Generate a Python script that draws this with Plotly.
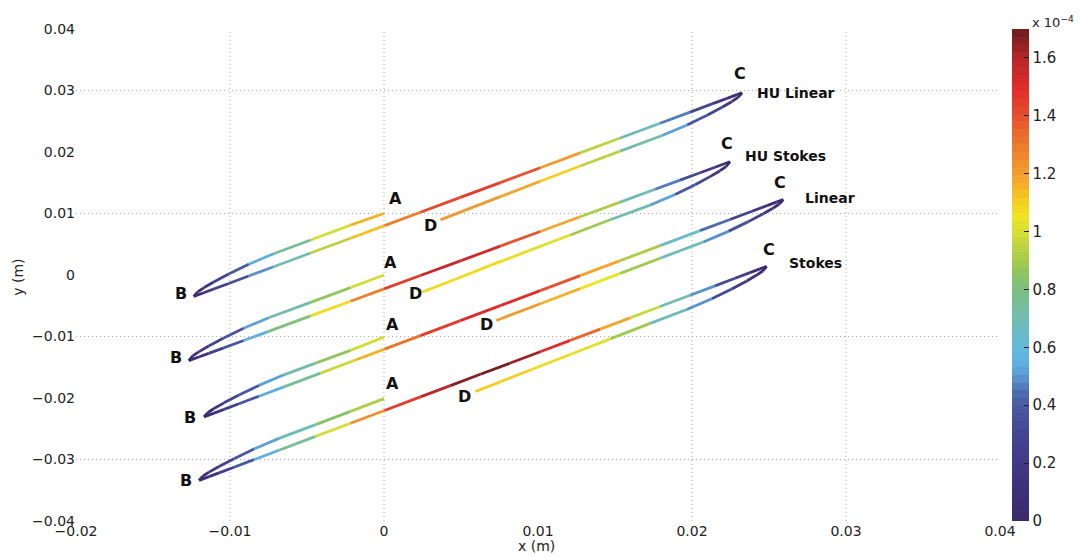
import plotly.graph_objects as go

# ---------------- data (x, y in m; v = speed in units of 1e-4, as on the colour bar) ----------------
# each path runs A -> B -> C -> D
hu_linear_x = [0.0, -0.002173, -0.004767, -0.007166, -0.008787, -0.010084, -0.011057, -0.011706, -0.012095, -0.012354,
               -0.011706, -0.011057, -0.010084, -0.008787, -0.007166, -0.004767, -0.002173, 0.000032, 0.002367, 0.004961,
               0.007555, 0.010149, 0.012743, 0.015337, 0.017931, 0.019877, 0.021304, 0.022276, 0.022925, 0.023249,
               0.022990, 0.022601, 0.021952, 0.020979, 0.019682, 0.018061, 0.015337, 0.012743, 0.010149, 0.007555,
               0.005285, 0.003664]
hu_linear_y = [0.010000, 0.008101, 0.005688, 0.003455, 0.001736, 0.000147, -0.001139, -0.002082, -0.002741, -0.003491,
               -0.002887, -0.002284, -0.001380, -0.000173, 0.001334, 0.003568, 0.005980, 0.008031, 0.010204, 0.012617,
               0.015029, 0.017442, 0.019855, 0.022268, 0.024682, 0.026491, 0.027819, 0.028723, 0.029326, 0.029628,
               0.028878, 0.028219, 0.027276, 0.025989, 0.024401, 0.022680, 0.020147, 0.017734, 0.015240, 0.012746,
               0.010553, 0.008962]
hu_linear_v = [1.22, 1.10, 0.88, 0.62, 0.45, 0.32, 0.22, 0.13, 0.08, 0.03,
               0.12, 0.20, 0.30, 0.42, 0.58, 0.82, 1.05, 1.22, 1.38, 1.47,
               1.45, 1.32, 1.08, 0.80, 0.54, 0.38, 0.25, 0.15, 0.07, 0.02,
               0.07, 0.13, 0.22, 0.33, 0.45, 0.60, 0.85, 1.05, 1.15, 1.20,
               1.22, 1.22]

hu_stokes_x = [0.0, -0.002173, -0.004767, -0.007490, -0.009112, -0.010409, -0.011381, -0.012030, -0.012419, -0.012678,
               -0.012030, -0.011381, -0.010409, -0.009112, -0.007490, -0.004767, -0.002173, 0.0, 0.002367, 0.004961,
               0.007555, 0.010149, 0.012743, 0.015337, 0.017607, 0.019228, 0.020525, 0.021498, 0.022147, 0.022471,
               0.022211, 0.021822, 0.021174, 0.020201, 0.018904, 0.017283, 0.014689, 0.012095, 0.009501, 0.006907,
               0.004637, 0.002477]
hu_stokes_y = [0.0, -0.002059, -0.004447, -0.006954, -0.008667, -0.010256, -0.011548, -0.012498, -0.013165, -0.013932,
               -0.013334, -0.012737, -0.011842, -0.010649, -0.009157, -0.006649, -0.004261, -0.002263, -0.000083, 0.002303,
               0.004692, 0.007080, 0.009467, 0.011855, 0.013945, 0.015436, 0.016630, 0.017525, 0.018122, 0.018421,
               0.017633, 0.016956, 0.015994, 0.014687, 0.013082, 0.011361, 0.008974, 0.006504, 0.004036, 0.001566,
               -0.000687, -0.002788]
hu_stokes_v = [1.05, 0.95, 0.80, 0.60, 0.45, 0.32, 0.22, 0.13, 0.07, 0.02,
               0.10, 0.18, 0.30, 0.45, 0.65, 0.95, 1.20, 1.38, 1.52, 1.58,
               1.50, 1.30, 1.05, 0.78, 0.55, 0.40, 0.28, 0.18, 0.09, 0.03,
               0.08, 0.13, 0.22, 0.33, 0.45, 0.60, 0.82, 0.98, 1.05, 1.08,
               1.08, 1.08]

linear_x = [0.0, -0.002173, -0.004442, -0.006498, -0.008119, -0.009416, -0.010389, -0.011038, -0.011427, -0.011686,
            -0.011038, -0.010389, -0.009416, -0.008119, -0.006498, -0.004118, -0.001848, 0.000032, 0.002367, 0.004961,
            0.007555, 0.010149, 0.012743, 0.015337, 0.017931, 0.020525, 0.022471, 0.023898, 0.024870, 0.025519,
            0.025927,
            0.025668, 0.025279, 0.024630, 0.023658, 0.022361, 0.020739, 0.017931, 0.015337, 0.012743, 0.010149,
            0.007296]
linear_y = [-0.0101, -0.012251, -0.014334, -0.016233, -0.017953, -0.019524, -0.020791, -0.021713, -0.022354, -0.023067,
            -0.022457, -0.021848, -0.020933, -0.019715, -0.018191, -0.015954, -0.013821, -0.012054, -0.009860, -0.007423,
            -0.004984, -0.002546, -0.000109, 0.002330, 0.004767, 0.007206, 0.009033, 0.010374, 0.011289, 0.011897,
            0.012281,
            0.011547, 0.010896, 0.009961, 0.008680, 0.007095, 0.005367, 0.002728, 0.000258, -0.002214, -0.004684,
            -0.007406]
linear_v = [1.05, 0.95, 0.80, 0.60, 0.45, 0.33, 0.22, 0.13, 0.07, 0.02,
            0.10, 0.18, 0.30, 0.45, 0.62, 0.88, 1.08, 1.25, 1.40, 1.48,
            1.52, 1.48, 1.30, 1.05, 0.80, 0.52, 0.35, 0.22, 0.12, 0.06,
            0.02,
            0.07, 0.12, 0.20, 0.30, 0.42, 0.58, 0.80, 1.00, 1.12, 1.20,
            1.22]

stokes_x = [0.0, -0.002173, -0.004442, -0.006822, -0.008444, -0.009741, -0.010713, -0.011362, -0.011751, -0.012010,
            -0.011362, -0.010713, -0.009741, -0.008444, -0.006822, -0.004442, -0.002173, 0.000032, 0.002367, 0.004313,
            0.006258, 0.008204, 0.010149, 0.012095, 0.014040, 0.015986, 0.017931, 0.019877, 0.021498, 0.022795,
            0.023768, 0.024416, 0.024851,
            0.024591, 0.024202, 0.023554, 0.022581, 0.021284, 0.019663, 0.017283, 0.014689, 0.012095, 0.009501,
            0.007555, 0.005934]
stokes_y = [-0.0201, -0.022181, -0.024323, -0.026571, -0.028294, -0.029863, -0.031129, -0.032051, -0.032687, -0.033393,
            -0.032782, -0.032168, -0.031250, -0.030026, -0.028496, -0.026248, -0.024106, -0.022025, -0.019821, -0.017984,
            -0.016147, -0.014310, -0.012473, -0.010636, -0.008799, -0.006962, -0.005127, -0.003290, -0.001759, -0.000535,
            0.000383, 0.000995, 0.001405,
            0.000651, -0.000013, -0.000964, -0.002264, -0.003871, -0.005613, -0.007860, -0.010390, -0.012920, -0.015450,
            -0.017369, -0.018940]
stokes_v = [0.95, 0.88, 0.78, 0.60, 0.45, 0.33, 0.22, 0.13, 0.07, 0.02,
            0.10, 0.18, 0.30, 0.45, 0.62, 0.88, 1.10, 1.35, 1.52, 1.62,
            1.68, 1.68, 1.60, 1.42, 1.25, 1.10, 0.82, 0.58, 0.40, 0.28,
            0.18, 0.08, 0.02,
            0.06, 0.10, 0.18, 0.28, 0.40, 0.58, 0.80, 0.98, 1.05, 1.08,
            1.10, 1.10]

curve_names = ["HU Linear", "HU Stokes", "Linear", "Stokes"]
name_x = [0.02409, 0.02333, 0.02719, 0.02619]
name_y = [0.02958, 0.01935, 0.01245, 0.00194]

point_text = ["A", "B", "C", "D"]
label_x = [[0.00075, -0.01320, 0.02309, 0.00302],
           [0.00042, -0.01352, 0.02225, 0.00204],
           [0.00057, -0.01261, 0.02571, 0.00665],
           [0.00057, -0.01283, 0.02502, 0.00524]]
label_y = [[0.01250, -0.00304, 0.03284, 0.00809],
           [0.00210, -0.01339, 0.02142, -0.00295],
           [-0.00806, -0.02318, 0.01499, -0.00806],
           [-0.01757, -0.03339, 0.00412, -0.01980]]

x_ticks = [-0.02, -0.01, 0, 0.01, 0.02, 0.03, 0.04]
y_ticks = [-0.04, -0.03, -0.02, -0.01, 0, 0.01, 0.02, 0.03, 0.04]
x_grid = [-0.01, 0, 0.02, 0.03]
y_grid = [-0.03, -0.01, 0.01, 0.03]
cbar_ticks = [0, 0.2, 0.4, 0.6, 0.8, 1.0, 1.2, 1.4, 1.6]
cbar_ticktext = ["0", "0.2", "0.4", "0.6", "0.8", "1", "1.2", "1.4", "1.6"]
v_max = 1.7

# ---------------- colour map (washed jet, 64 levels like MATLAB) ----------------
ANCHORS = [
    (0.00, (58, 42, 108)), (0.10, (61, 47, 120)), (0.20, (65, 56, 134)), (0.30, (68, 71, 144)),
    (0.40, (74, 90, 160)), (0.45, (80, 112, 180)), (0.50, (90, 152, 208)), (0.55, (95, 179, 224)),
    (0.60, (98, 185, 220)), (0.70, (114, 189, 176)), (0.80, (125, 191, 128)), (0.85, (139, 196, 98)),
    (0.90, (166, 203, 76)), (1.00, (215, 222, 54)), (1.05, (237, 228, 35)), (1.10, (244, 208, 33)),
    (1.15, (245, 181, 38)), (1.20, (242, 157, 46)), (1.30, (236, 122, 44)), (1.40, (230, 80, 46)),
    (1.45, (227, 58, 44)), (1.50, (222, 44, 42)), (1.60, (182, 37, 40)), (1.70, (107, 28, 30)),
]
NLEV = 64


def raw_color(val):
    if val <= ANCHORS[0][0]:
        return ANCHORS[0][1]
    for (a, ca), (b, cb) in zip(ANCHORS[:-1], ANCHORS[1:]):
        if val <= b:
            t = (val - a) / (b - a)
            return tuple(round(ca[k] + t * (cb[k] - ca[k])) for k in range(3))
    return ANCHORS[-1][1]


def level_color(val):
    t = min(max(val / v_max, 0.0), 1.0)
    lev = min(int(t * NLEV), NLEV - 1)
    c = raw_color((lev + 0.5) / NLEV * v_max)
    return "rgb(%d,%d,%d)" % c


colorscale = []
for i in range(NLEV):
    c = "rgb(%d,%d,%d)" % raw_color((i + 0.5) / NLEV * v_max)
    colorscale.append([i / NLEV, c])
    colorscale.append([(i + 1) / NLEV, c])

FONT = "DejaVu Sans, Liberation Sans, Arial, sans-serif"

fig = go.Figure()

paths = [(hu_linear_x, hu_linear_y, hu_linear_v), (hu_stokes_x, hu_stokes_y, hu_stokes_v),
         (linear_x, linear_y, linear_v), (stokes_x, stokes_y, stokes_v)]

for xs, ys, vs in paths:
    for i in range(len(xs) - 1):
        fig.add_trace(go.Scatter(
            x=[xs[i], xs[i + 1]], y=[ys[i], ys[i + 1]], mode="lines",
            line=dict(color=level_color((vs[i] + vs[i + 1]) / 2), width=2.8),
            showlegend=False, hoverinfo="skip"))

# colour bar carrier
fig.add_trace(go.Scatter(
    x=[None], y=[None], mode="markers", showlegend=False, hoverinfo="skip",
    marker=dict(color=[0], cmin=0, cmax=v_max, colorscale=colorscale, showscale=True,
                colorbar=dict(x=1.013, xanchor="left", xpad=0, y=0.5, yanchor="middle",
                              len=1.0, lenmode="fraction", thickness=17, ypad=0,
                              outlinewidth=0, tickvals=cbar_ticks, ticktext=cbar_ticktext,
                              ticks="inside", ticklen=5, tickcolor="#222",
                              tickfont=dict(family=FONT, size=15, color="#222")))))

annotations = []
for k in range(4):
    for j in range(4):
        annotations.append(dict(x=label_x[k][j], y=label_y[k][j], text="<b>%s</b>" % point_text[j],
                                showarrow=False, xanchor="center", yanchor="middle",
                                font=dict(family=FONT, size=16, color="#111")))
    annotations.append(dict(x=name_x[k], y=name_y[k], text="<b>%s</b>" % curve_names[k],
                            showarrow=False, xanchor="left", yanchor="middle",
                            font=dict(family=FONT, size=14, color="#111")))

annotations += [
    dict(xref="paper", yref="paper", x=0.4989, y=-0.051, text="x (m)", showarrow=False,
         xanchor="center", yanchor="middle", font=dict(family=FONT, size=14, color="#222")),
    dict(xref="paper", yref="paper", x=-0.063, y=0.496, text="y (m)", showarrow=False, textangle=-90,
         xanchor="center", yanchor="middle", font=dict(family=FONT, size=14, color="#222")),
    dict(xref="paper", yref="paper", x=1.0325, y=1.014, text="x 10<sup>−4</sup>", showarrow=False,
         xanchor="left", yanchor="middle", font=dict(family=FONT, size=13, color="#222")),
]

shapes = []
for gx in x_grid:
    shapes.append(dict(type="line", xref="x", yref="paper", x0=gx, x1=gx, y0=0, y1=1, layer="below",
                       line=dict(color="#aaaaaa", width=1, dash="1px,3px")))
for gy in y_grid:
    shapes.append(dict(type="line", xref="paper", yref="y", x0=0, x1=1, y0=gy, y1=gy, layer="below",
                       line=dict(color="#aaaaaa", width=1, dash="1px,3px")))

fig.update_layout(
    width=1080, height=557,
    margin=dict(l=76, r=80, t=29, b=36),
    paper_bgcolor="white", plot_bgcolor="white",
    showlegend=False,
    annotations=annotations, shapes=shapes,
    xaxis=dict(range=[-0.02, 0.04], tickvals=x_ticks, showgrid=False, zeroline=False, showline=False,
               ticks="", tickfont=dict(family=FONT, size=14, color="#222")),
    yaxis=dict(range=[-0.04, 0.04], tickvals=y_ticks, showgrid=False, zeroline=False, showline=False,
               ticks="", tickfont=dict(family=FONT, size=14, color="#222")),
)

fig.write_html("out.html")
